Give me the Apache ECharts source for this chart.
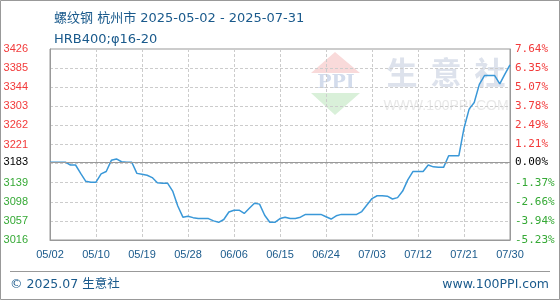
<!DOCTYPE html>
<html>
<head>
<meta charset="utf-8">
<style>
html,body{margin:0;padding:0;background:#fff;}
#chart{width:560px;height:300px;}
</style>
<script src="https://cdn.jsdelivr.net/npm/echarts@6/dist/echarts.min.js"></script>
</head>
<body>
<div id="chart"></div>
<script>
// ---- data ----
var titleLine1 = '螺纹钢 杭州市 2025-05-02 - 2025-07-31';
var titleLine2 = 'HRB400;φ16-20';
var dates = [
 '05/02','05/03','05/04','05/05','05/06','05/07','05/08','05/09','05/10','05/11',
 '05/12','05/13','05/14','05/15','05/16','05/17','05/18','05/19','05/20','05/21',
 '05/22','05/23','05/24','05/25','05/26','05/27','05/28','05/29','05/30','05/31',
 '06/01','06/02','06/03','06/04','06/05','06/06','06/07','06/08','06/09','06/10',
 '06/11','06/12','06/13','06/14','06/15','06/16','06/17','06/18','06/19','06/20',
 '06/21','06/22','06/23','06/24','06/25','06/26','06/27','06/28','06/29','06/30',
 '07/01','07/02','07/03','07/04','07/05','07/06','07/07','07/08','07/09','07/10',
 '07/11','07/12','07/13','07/14','07/15','07/16','07/17','07/18','07/19','07/20',
 '07/21','07/22','07/23','07/24','07/25','07/26','07/27','07/28','07/29','07/30',
 '07/31'
];
var prices = [
 3183,3183,3183,3183,3177,3177,3159,3142,3140,3140,
 3158,3163,3187,3190,3184,3183,3183,3159,3157,3155,
 3150,3139,3138,3138,3121,3089,3065,3067,3064,3062,
 3062,3062,3057,3054,3060,3076,3080,3080,3073,3084,
 3095,3093,3069,3054,3054,3062,3065,3062,3062,3065,
 3071,3071,3071,3071,3066,3061,3068,3071,3071,3071,
 3071,3077,3091,3105,3111,3111,3110,3104,3107,3121,
 3145,3163,3163,3163,3177,3173,3172,3172,3197,3197,
 3197,3256,3297,3311,3350,3369,3369,3369,3351,3372,
 3392
];
var xTickLabels = ['05/02','05/10','05/19','05/28','06/06','06/15','06/24','07/03','07/12','07/21','07/30'];
var basePrice = 3183;
var baseLabelLeft = '3183';
var baseLabelRight = '0.00%';
var yMin = 3016, yMax = 3426, yStep = 41;
var leftTickLabels  = ['3016','3057','3098','3139','','3221','3262','3303','3344','3385','3426'];
var rightTickLabels = ['-5.23%','-3.94%','-2.66%','-1.37%','','1.21%','2.49%','3.78%','5.07%','6.35%','7.64%'];

// ---- chart ----
var RED = '#f23a3a', GREEN = '#35a935', BLUE = '#1a5a8c';
function tickIndex(v){ return Math.round((v - yMin) / yStep); }
function labelColor(v){ return v > basePrice ? RED : GREEN; }

var chart = echarts.init(document.getElementById('chart'), null, {renderer:'canvas'});
var option = {
  animation: false,
  title: {
    text: titleLine1 + '\n' + titleLine2,
    left: 49, top: 3,
    textStyle: {fontSize: 13, fontWeight: 'normal', color: BLUE, lineHeight: 21,
      fontFamily: '"DejaVu Sans","Noto Sans CJK SC",sans-serif'}
  },
  grid: {left: 50, right: 50, top: 49, bottom: 60, show: true, borderColor: '#999', borderWidth: 1, backgroundColor: 'transparent'},
  xAxis: {
    type: 'category', data: dates, boundaryGap: false,
    axisLine: {lineStyle: {color: '#999'}},
    axisTick: {show: false},
    axisLabel: {
      interval: 8, margin: 9, color: BLUE, fontSize: 11,
      fontFamily: '"Liberation Sans",sans-serif',
      formatter: function(v, i){ return xTickLabels[Math.round(i / 9)] || ''; }
    },
    splitLine: {show: true, interval: 8, lineStyle: {color: '#ccc', type: [3,2]}}
  },
  yAxis: [{
    type: 'value', min: yMin, max: yMax, interval: yStep, position: 'left',
    axisLine: {show: true, lineStyle: {color: '#999'}},
    axisTick: {show: false},
    axisLabel: {
      margin: 22, fontSize: 11, fontFamily: '"Liberation Sans",sans-serif',
      color: function(v){ return labelColor(v); },
      formatter: function(v){ return leftTickLabels[tickIndex(v)] || ''; }
    },
    splitLine: {show: true, lineStyle: {color: '#ccc', type: [3,2]}}
  },{
    type: 'value', min: yMin, max: yMax, interval: yStep, position: 'right',
    axisLine: {show: true, lineStyle: {color: '#999'}},
    axisTick: {show: false},
    axisLabel: {
      margin: 5, fontSize: 11, fontFamily: '"DejaVu Sans Mono",monospace',
      color: function(v){ return labelColor(v); },
      formatter: function(v){ return rightTickLabels[tickIndex(v)] || ''; }
    },
    splitLine: {show: false}
  }],
  graphic: [
    {type:'rect', shape:{x:0.5,y:0.5,width:559,height:299}, style:{fill:'none', stroke:'#999', lineWidth:1}, z:-20},
    {type:'line', shape:{x1:10,y1:271.5,x2:550,y2:271.5}, style:{stroke:'#999', lineWidth:1}},
    {type:'text', left:10, top:278, style:{text:'© 2025.07 生意社', fill:BLUE, fontSize:12.5, fontFamily:'"DejaVu Sans","Noto Sans CJK SC",sans-serif'}},
    {type:'text', right:11, top:278, style:{text:'www.100PPI.com', fill:BLUE, fontSize:12.5, fontFamily:'"DejaVu Sans",sans-serif'}},
    // watermark
    {type:'polygon', shape:{points:[[335,52],[311,73],[360,73]]}, style:{fill:'#f9dada'}, z:-10},
    {type:'polygon', shape:{points:[[311,93],[360,93],[335,115]]}, style:{fill:'#d9f0d9'}, z:-10},
    {type:'text', x:336, y:83, style:{text:'PPI', fill:'#d3dcec', fontSize:19, fontWeight:'bold', fontFamily:'"DejaVu Serif",serif', textAlign:'center', textVerticalAlign:'middle'}, z:-10},
    {type:'text', x:402, y:72, style:{text:'生', fill:'#dde2ec', fontSize:31, fontWeight:'bold', fontFamily:'"Noto Sans CJK SC",sans-serif', textAlign:'center', textVerticalAlign:'middle'}, z:-10},
    {type:'text', x:446, y:72, style:{text:'意', fill:'#dde2ec', fontSize:31, fontWeight:'bold', fontFamily:'"Noto Sans CJK SC",sans-serif', textAlign:'center', textVerticalAlign:'middle'}, z:-10},
    {type:'text', x:490, y:72, style:{text:'社', fill:'#dde2ec', fontSize:31, fontWeight:'bold', fontFamily:'"Noto Sans CJK SC",sans-serif', textAlign:'center', textVerticalAlign:'middle'}, z:-10},
    {type:'text', x:446, y:106, style:{text:'WWW.100PPI.COM', fill:'#e8e8e8', fontSize:14, fontFamily:'"Liberation Sans",sans-serif', textAlign:'center', textVerticalAlign:'middle'}, z:-10}
  ],
  series: [{
    type: 'line', data: prices, yAxisIndex: 0,
    showSymbol: false, symbol: 'none',
    lineStyle: {color: '#3a98d8', width: 1.5},
    markLine: {
      silent: true, symbol: 'none', animation: false,
      lineStyle: {color: '#999', type: 'solid', width: 1},
      data: [
        {yAxis: basePrice, label: {position: 'start', distance: 22, formatter: baseLabelLeft, color: '#000', fontSize: 11, fontFamily: '"Liberation Sans",sans-serif'}},
        {yAxis: basePrice, label: {position: 'end', distance: 5, formatter: baseLabelRight, color: '#000', fontSize: 11, fontFamily: '"DejaVu Sans Mono",monospace'}}
      ]
    }
  }]
};
chart.setOption(option);
</script>
</body>
</html>
